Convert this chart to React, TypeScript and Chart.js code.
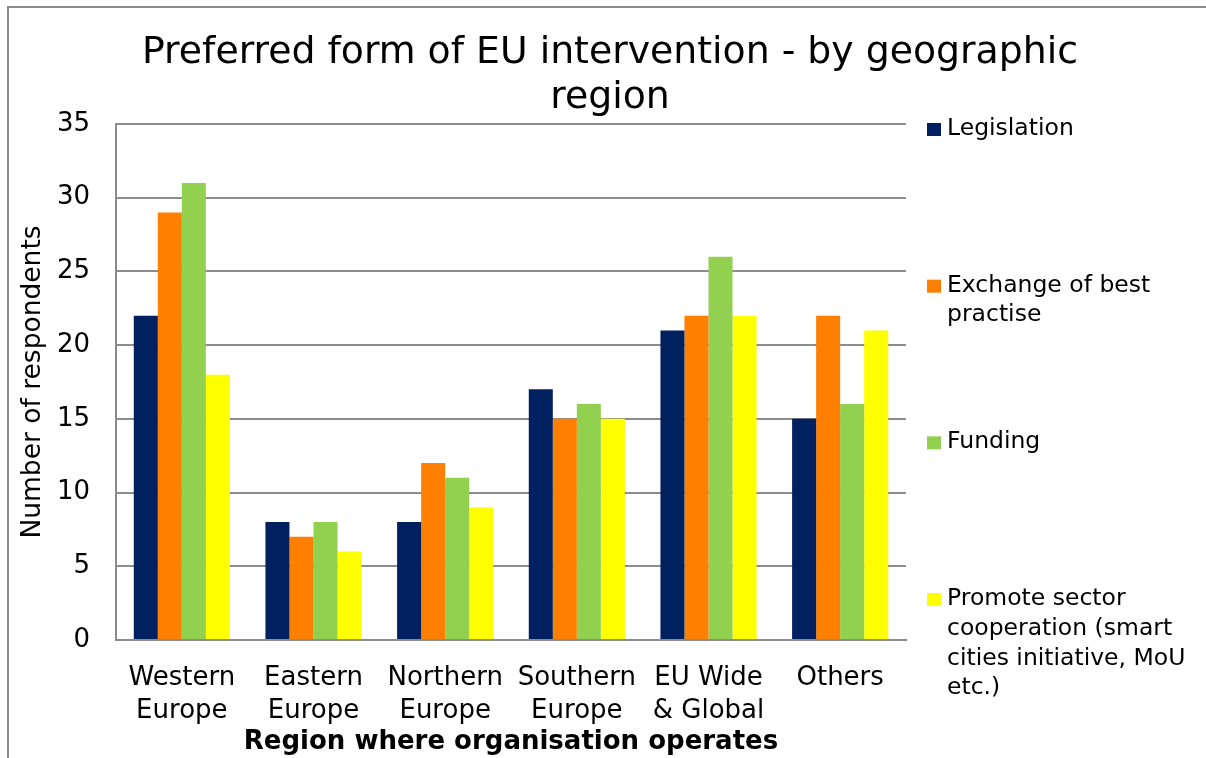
import React, { useEffect, useRef } from "react";
import { Chart, registerables } from "chart.js";

Chart.register(...registerables);

const categories: string[][] = [
  ["Western", "Europe"],
  ["Eastern", "Europe"],
  ["Northern", "Europe"],
  ["Southern", "Europe"],
  ["EU Wide", "& Global"],
  ["Others"],
];
const legislation = [22, 8, 8, 17, 21, 15];
const exchange = [29, 7, 12, 15, 22, 22];
const funding = [31, 8, 11, 16, 26, 16];
const promote = [18, 6, 9, 15, 22, 21];
const seriesNames = [
  "Legislation",
  "Exchange of best practise",
  "Funding",
  "Promote sector cooperation (smart cities initiative, MoU etc.)",
];
const seriesColors = ["#002060", "#FF7F00", "#92D050", "#FFFF00"];
const titleLines = ["Preferred form of EU intervention - by geographic", "region"];
const yAxisTitle = "Number of respondents";
const xAxisTitle = "Region where organisation operates";
const yMin = 0;
const yMax = 35;
const yStep = 5;

const FONT = "'DejaVu Sans', Verdana, sans-serif";
const GRID = "#8c8c8c";

function wrap(ctx: CanvasRenderingContext2D, text: string, maxW: number): string[] {
  const words = text.split(" ");
  const lines: string[] = [];
  let cur = "";
  for (const w of words) {
    const t = cur ? cur + " " + w : w;
    if (cur && ctx.measureText(t).width > maxW) {
      lines.push(cur);
      cur = w;
    } else cur = t;
  }
  if (cur) lines.push(cur);
  return lines;
}

const decorPlugin = {
  id: "decor",
  beforeDraw(chart: any) {
    const ctx = chart.ctx as CanvasRenderingContext2D;
    ctx.save();
    ctx.fillStyle = "#ffffff";
    ctx.fillRect(0, 0, chart.width, chart.height);
    ctx.strokeStyle = GRID;
    ctx.lineWidth = 2;
    ctx.beginPath();
    ctx.moveTo(8, chart.height);
    ctx.lineTo(8, 7);
    ctx.lineTo(chart.width, 7);
    ctx.stroke();
    ctx.restore();
  },
  afterDraw(chart: any) {
    const ctx = chart.ctx as CanvasRenderingContext2D;
    ctx.save();
    // title
    ctx.fillStyle = "#000";
    ctx.font = `37.8px ${FONT}`;
    ctx.textAlign = "center";
    ctx.textBaseline = "middle";
    titleLines.forEach((l, i) => ctx.fillText(l, 610, 53 + i * 45));
    // legend
    ctx.font = `23.5px ${FONT}`;
    ctx.textAlign = "left";
    const top = 129;
    const gap = (599 - 129) / 3;
    chart.data.datasets.forEach((ds: any, i: number) => {
      const y = top + i * gap;
      ctx.fillStyle = ds.backgroundColor;
      ctx.fillRect(927, y - 6, 14, 13);
      ctx.fillStyle = "#000";
      const lines = wrap(ctx, ds.label, 252);
      lines.forEach((l, j) => ctx.fillText(l, 947, y + j * 29.7));
    });
    ctx.restore();
  },
};

export default function App() {
  const ref = useRef<HTMLCanvasElement>(null);
  useEffect(() => {
    if (!ref.current) return;
    const seriesData = [legislation, exchange, funding, promote];
    const chart = new Chart(ref.current, {
      type: "bar",
      data: {
        labels: categories as any,
        datasets: seriesData.map((d, i) => ({
          label: seriesNames[i],
          data: d,
          backgroundColor: seriesColors[i],
          borderWidth: 0,
          categoryPercentage: 0.73,
          barPercentage: 1.0,
        })),
      },
      options: {
        responsive: true,
        maintainAspectRatio: false,
        animation: false,
        layout: { padding: { left: 10, top: 124, right: 300, bottom: 0 } },
        plugins: {
          legend: { display: false },
          title: { display: false },
          tooltip: { enabled: false },
        },
        scales: {
          x: {
            grid: { display: false },
            border: { display: true, color: GRID, width: 2 },
            ticks: {
              color: "#000",
              font: { family: FONT, size: 26, lineHeight: 1.27 },
              padding: 14,
              maxRotation: 0,
              autoSkip: false,
            },
            title: {
              display: true,
              text: xAxisTitle,
              color: "#000",
              font: { family: FONT, size: 26, weight: "bold" },
              padding: { top: 0, bottom: 0 },
            },
            afterFit: (s: any) => {
              s.height = 118;
            },
          },
          y: {
            min: yMin,
            max: yMax,
            grid: { color: GRID, lineWidth: 2, drawTicks: false },
            border: { display: true, color: GRID, width: 2 },
            ticks: {
              stepSize: yStep,
              color: "#000",
              font: { family: FONT, size: 26 },
              padding: 26,
            },
            title: {
              display: true,
              text: yAxisTitle,
              color: "#000",
              font: { family: FONT, size: 26.5 },
              padding: { top: 7, bottom: 0 },
            },
            afterFit: (s: any) => {
              s.width = 106;
            },
          },
        },
      },
      plugins: [decorPlugin],
    });
    return () => chart.destroy();
  }, []);
  return (
    <div style={{ position: "fixed", left: 0, top: 0, width: 1206, height: 758, background: "#fff" }}>
      <canvas ref={ref} />
    </div>
  );
}
